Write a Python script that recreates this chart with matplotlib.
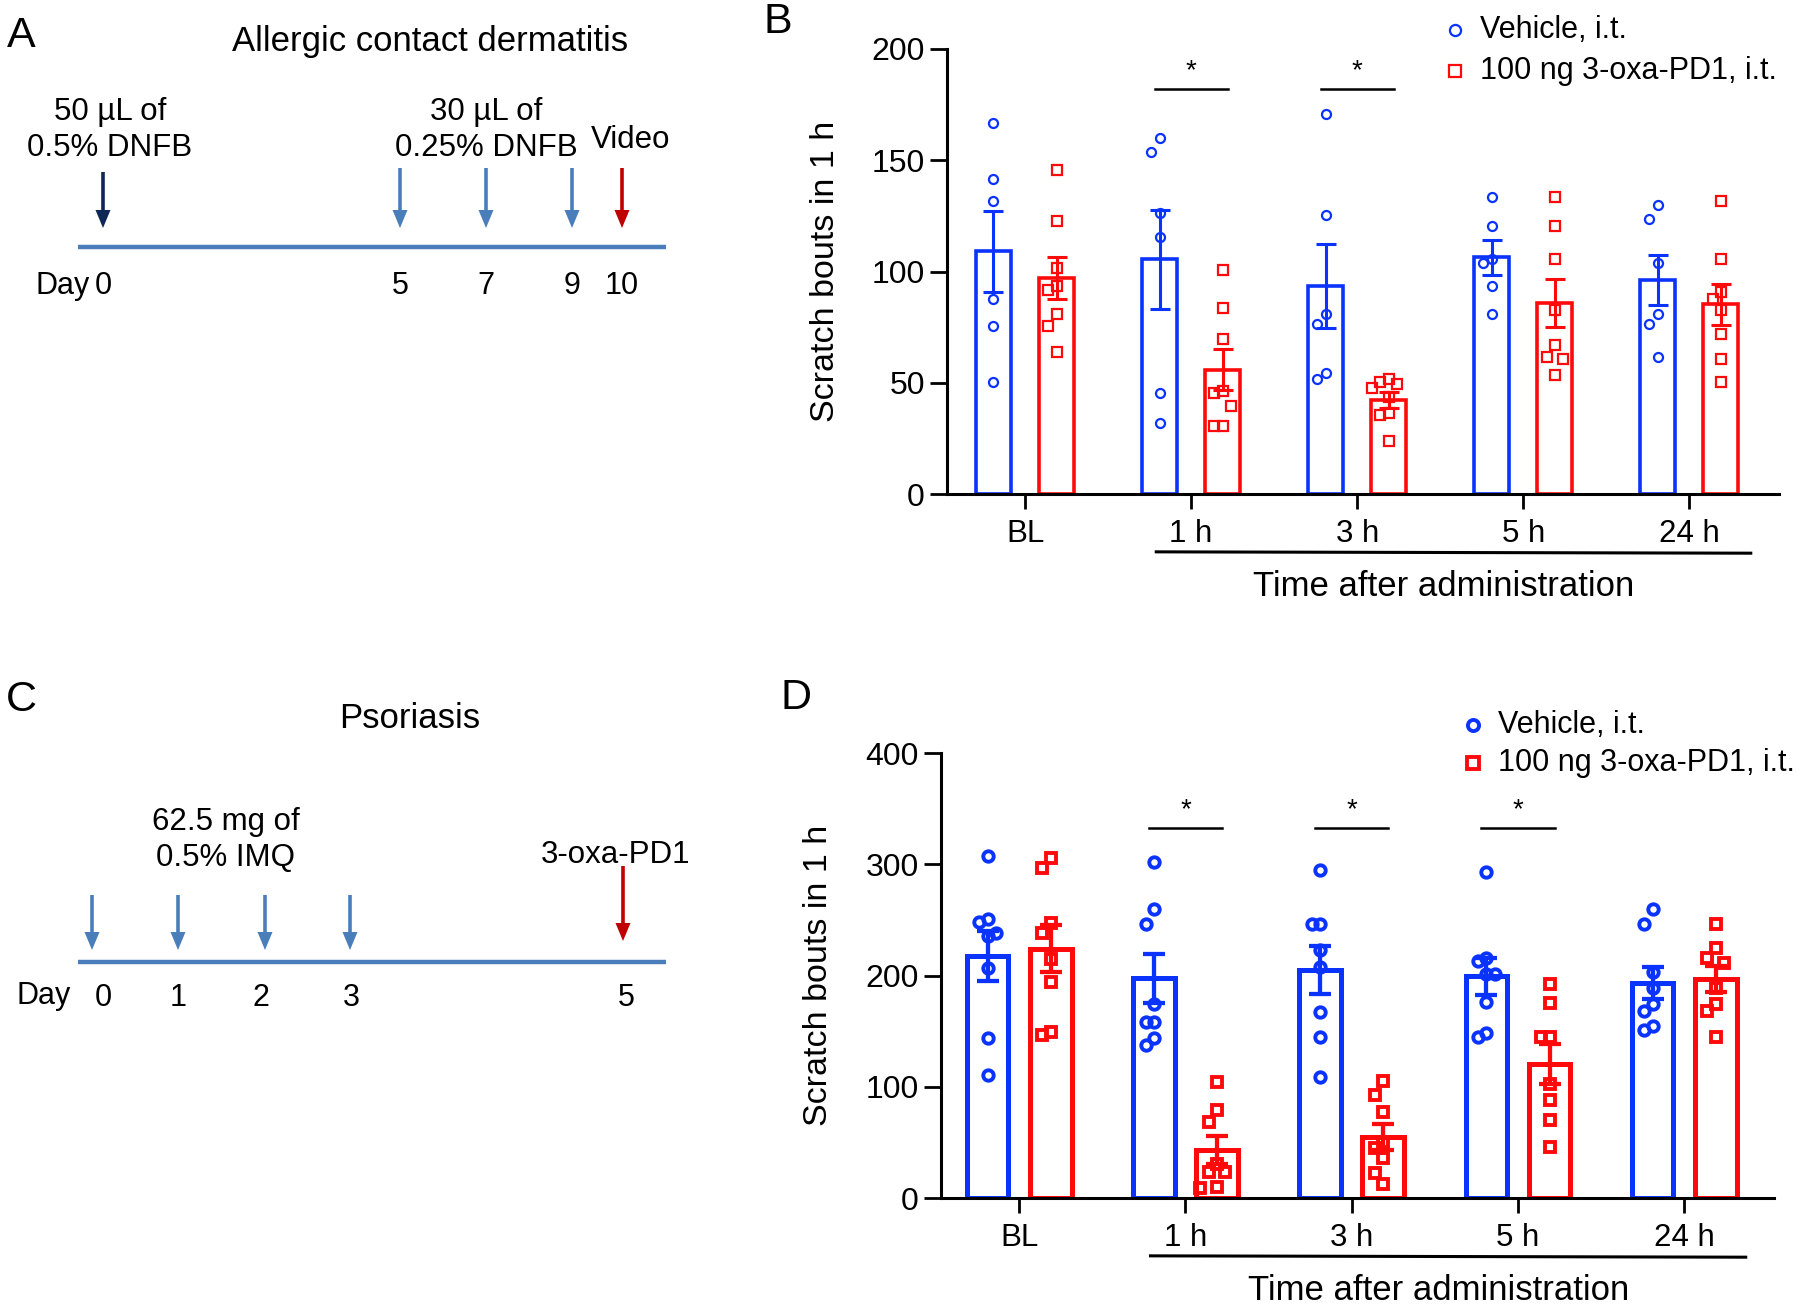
import numpy as np
import matplotlib
matplotlib.use('Agg')
import matplotlib.pyplot as plt
from matplotlib.lines import Line2D

plt.rcParams['font.family'] = ['Liberation Sans', 'DejaVu Sans']

# ---- datos ----
grupos = ['BL', '1 h', '3 h', '5 h', '24 h']

# Panel B (dermatitis alérgica de contacto)
veh_B = [
    [166.7, 141.7, 131.7, 87.8, 75.7, 50.5],
    [159.8, 153.5, 126.4, 115.6, 45.6, 31.7],
    [170.6, 125.5, 80.7, 76.6, 54.6, 51.6],
    [133.7, 120.6, 105.7, 103.7, 93.6, 80.7],
    [129.8, 123.8, 103.7, 80.7, 76.6, 61.7],
]
oxa_B = [
    [145.7, 122.7, 101.6, 93.6, 91.8, 80.7, 75.7, 63.8],
    [100.7, 83.7, 69.7, 46.5, 45.6, 39.5, 30.5, 30.5],
    [51.6, 50.5, 49.6, 47.5, 43.6, 36.5, 35.6, 23.6],
    [133.7, 120.6, 105.7, 82.6, 66.8, 61.7, 60.6, 53.5],
    [131.7, 105.7, 90.8, 87.8, 82.6, 71.8, 60.6, 50.5],
]
sig_B = [1, 2]

# Panel D (psoriasis)
veh_D = [
    [307.0, 251.2, 248.3, 238.3, 235.4, 206.8, 143.8, 110.9],
    [302.0, 259.4, 246.2, 174.6, 158.1, 158.1, 143.8, 137.4],
    [294.8, 246.2, 246.2, 223.3, 207.5, 167.1, 144.5, 109.1],
    [293.0, 216.1, 213.2, 201.4, 201.4, 176.0, 148.5, 144.5],
    [259.4, 246.2, 202.9, 188.5, 174.2, 168.2, 154.6, 151.0],
]
oxa_D = [
    [305.5, 297.0, 246.9, 238.3, 214.7, 194.3, 149.2, 146.7],
    [104.0, 79.0, 68.0, 31.0, 23.0, 23.0, 10.0, 9.0],
    [104.8, 92.7, 77.6, 50.1, 45.0, 35.8, 22.5, 12.5],
    [192.1, 175.0, 144.5, 144.5, 102.7, 88.0, 70.5, 46.2],
    [246.2, 225.0, 216.1, 211.1, 188.5, 174.2, 168.2, 144.5],
]
sig_D = [1, 2, 3]

# Esquemas de tiempo (posiciones esquemáticas en px de la figura)
dias_A = ['0', '5', '7', '9', '10']
flechas_A_x = [103, 400, 486, 572, 622]
etiq_A_x = [103, 400, 486, 572, 622]
colores_A = ['#0f2757', '#4a7ebb', '#4a7ebb', '#4a7ebb', '#c00000']

dias_C = ['0', '1', '2', '3', '5']
flechas_C_x = [92, 178, 265, 350, 623]
etiq_C_x = [103, 178, 261, 351, 626]
colores_C = ['#4a7ebb', '#4a7ebb', '#4a7ebb', '#4a7ebb', '#c00000']

AZUL = '#0a33ff'
ROJO = '#ff0a0a'

W, H = 1800, 1306
fig = plt.figure(figsize=(W / 100, H / 100), dpi=100)

# eje de fondo en pixeles para los esquemas
bg = fig.add_axes([0, 0, 1, 1])
bg.set_xlim(0, W)
bg.set_ylim(H, 0)
bg.axis('off')


def esquema(dias, xs, xl, cols, y_linea, y_dias, y0s, y1s):
    bg.plot([78, 666], [y_linea, y_linea], color='#4a7ebb', lw=3.2, solid_capstyle='butt')
    for d, x, x2, c, y0, y1 in zip(dias, xs, xl, cols, y0s, y1s):
        bg.arrow(x, y0, 0, y1 - y0, width=3.6, head_width=15, head_length=18,
                 length_includes_head=True, color=c, lw=0)
        bg.text(x2, y_dias, d, ha='center', va='center', fontsize=22)


# Panel A
esquema(dias_A, flechas_A_x, etiq_A_x, colores_A, 247, 286,
        [172, 168, 168, 168, 168], [228, 228, 228, 228, 228])
bg.text(63, 286, 'Day', ha='center', va='center', fontsize=22)
bg.text(430, 41, 'Allergic contact dermatitis', ha='center', va='center', fontsize=25)
bg.text(110, 130, '50 µL of\n0.5% DNFB', ha='center', va='center', fontsize=22.5, linespacing=1.22)
bg.text(486, 130, '30 µL of\n0.25% DNFB', ha='center', va='center', fontsize=22.5, linespacing=1.22)
bg.text(631, 140, 'Video', ha='center', va='center', fontsize=22.5)

# Panel C
esquema(dias_C, flechas_C_x, etiq_C_x, colores_C, 962, 998,
        [895, 895, 895, 895, 866], [950, 950, 950, 950, 941])
bg.text(44, 996, 'Day', ha='center', va='center', fontsize=22)
bg.text(410, 718, 'Psoriasis', ha='center', va='center', fontsize=25)
bg.text(226, 840, '62.5 mg of\n0.5% IMQ', ha='center', va='center', fontsize=22.5, linespacing=1.22)
bg.text(616, 855, '3-oxa-PD1', ha='center', va='center', fontsize=22.5)

for letra, (x, y) in zip('ABCD', [(21, 36), (778, 22), (21, 700), (796, 698)]):
    fig.text(x / W, 1 - y / H, letra, fontsize=31, ha='center', va='center')


def dispersar(vals, ymax, d):
    # separa horizontalmente los puntos que se solapan
    orden = np.argsort(vals)[::-1]
    puestos = []
    dx = np.zeros(len(vals))
    for i in orden:
        for cand in [0, -d, d, -2 * d, 2 * d]:
            if all(abs(vals[i] - y) > 0.035 * ymax or abs(cand - x) > 0.9 * d for y, x in puestos):
                break
        puestos.append((vals[i], cand))
        dx[i] = cand
    return dx


def panel(rect, veh, oxa, sig, ymax, paso, lw, ms, mew, ancho, cap, sig_y):
    ax = fig.add_axes(rect)
    x = np.arange(len(grupos))
    for datos, col, mk, off in [(veh, AZUL, 'o', -0.19), (oxa, ROJO, 's', 0.19)]:
        medias = np.array([np.mean(v) for v in datos])
        sem = np.array([np.std(v, ddof=1) / np.sqrt(len(v)) for v in datos])
        ax.bar(x + off, medias, width=ancho, facecolor='none', edgecolor=col, linewidth=lw, zorder=2)
        ax.errorbar(x + off, medias, yerr=sem, fmt='none', ecolor=col, elinewidth=lw * 0.85,
                    capsize=cap, capthick=lw * 0.85, zorder=3)
        for i, v in enumerate(datos):
            v = np.array(v)
            ax.plot(x[i] + off + dispersar(v, ymax, 0.05), v, mk, ms=ms, mfc='none', mec=col,
                    mew=mew, ls='none', zorder=4, clip_on=False)
    for s in sig:
        ax.plot([s - 0.22, s + 0.22], [sig_y, sig_y], color='black', lw=1.8, clip_on=False)
        ax.text(s, sig_y + ymax * 0.01, '*', ha='center', va='bottom', fontsize=20)
    ax.set_xlim(-0.47, 4.54)
    ax.set_ylim(0, ymax)
    ax.set_yticks(np.arange(0, ymax + 1, paso))
    ax.set_xticks(x)
    ax.set_xticklabels(grupos)
    ax.tick_params(axis='y', labelsize=23, length=12, width=2, pad=4)
    ax.tick_params(axis='x', labelsize=22.5, length=11, width=2, pad=7)
    for lado in ['top', 'right']:
        ax.spines[lado].set_visible(False)
    for lado in ['left', 'bottom']:
        ax.spines[lado].set_linewidth(2.2)
    ax.set_ylabel('Scratch bouts in 1 h', fontsize=24.5)
    ax.yaxis.set_label_coords(-0.128, 0.5)
    trans = ax.get_xaxis_transform()
    ax.plot([0.79, 4.37], [-0.13, -0.133], color='black', lw=2.2, transform=trans, clip_on=False)
    ax.text(2.52, -0.208, 'Time after administration', ha='center', va='center', fontsize=25,
            transform=trans)
    return ax


axB = panel([947 / W, 1 - 494 / H, 832 / W, 445 / H], veh_B, oxa_B, sig_B, 200, 50,
            2.6, 6.5, 1.6, 0.21, 7, 182)
axD = panel([941 / W, 1 - 1198 / H, 833 / W, 445 / H], veh_D, oxa_D, sig_D, 400, 100,
            3.6, 7.5, 2.8, 0.25, 8, 333)


def leyenda(x, y1, y2, ms, mew):
    for y, mk, col, txt in [(y1, 'o', AZUL, 'Vehicle, i.t.'), (y2, 's', ROJO, '100 ng 3-oxa-PD1, i.t.')]:
        fig.add_artist(Line2D([x / W], [1 - y / H], marker=mk, ms=ms, mfc='none', mec=col, mew=mew,
                              transform=fig.transFigure))
        fig.text((x + 25) / W, 1 - y / H, txt, fontsize=22, ha='left', va='center')


leyenda(1455, 30, 71, 8, 1.6)
leyenda(1473, 725, 763, 8, 2.8)

plt.savefig('out.png', dpi=100)
